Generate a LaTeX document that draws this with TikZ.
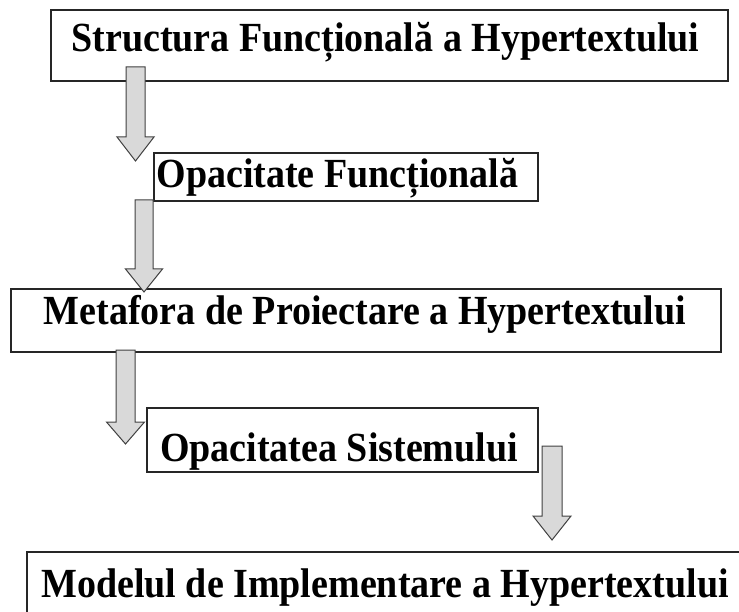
\documentclass[tikz,border=0pt]{standalone}
\usepackage{fontspec}
\usepackage{graphicx}
\setmainfont{Liberation Serif}
\newcommand\tallbold[1]{\scalebox{1}[1.09]{#1}}
\begin{document}
\begin{tikzpicture}[x=1pt,y=-1pt,
  boxline/.style={draw=black!85, line width=1.2pt, fill=white},
  openline/.style={draw=black!85, line width=1.2pt},
  label/.style={anchor=base, inner sep=0pt, font=\fontsize{38}{40}\selectfont\bfseries},
  blockarr/.style={draw=black!75, line width=1pt, fill=black!15, line join=miter}]
\useasboundingbox (0,0) rectangle (739,612);
% boxes
\draw[boxline] (51,10) rectangle (728,81);
\draw[boxline] (154,153) rectangle (538,201);
\draw[boxline] (11,289) rectangle (721,352);
\draw[boxline] (147,408) rectangle (538,472);
\draw[openline] (27,620) -- (27,552) -- (745,552);
% texts
\node[label] (t1) at (385.5,52) {\tallbold{Structura Funcțională a Hypertextului}};
\node[label] (t2) at (337.5,188) {\tallbold{Opacitate Funcțională}};
\node[label] (t3) at (365,324) {\tallbold{Metafora de Proiectare a Hypertextului}};
\node[label] (t4) at (339,461) {\tallbold{Opacitatea Sistemului}};
\node[label] (t5) at (385,597) {\tallbold{Modelul de Implementare a Hypertextului}};
% block arrows: centre x, top, head start, tip, half shaft, half head
\newcommand\blockarrow[6]{%
  \draw[blockarr] (#1-#5,#2) -- (#1+#5,#2) -- (#1+#5,#3) -- (#1+#6,#3)
    -- (#1,#4) -- (#1-#6,#3) -- (#1-#5,#3) -- cycle;}
\blockarrow{135.5}{67}{137}{161}{9.5}{18.5}
\blockarrow{144}{200}{269}{292}{9}{18.5}
\blockarrow{125.5}{350}{422}{444}{9.5}{19}
\blockarrow{552}{446}{516}{540}{10}{19}
\end{tikzpicture}
\end{document}
